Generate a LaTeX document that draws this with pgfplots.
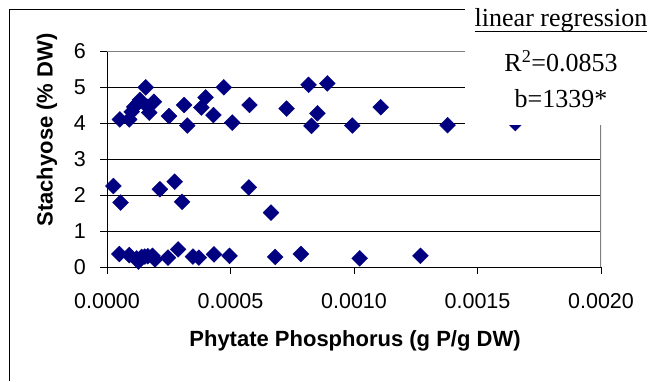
\documentclass[border=0pt]{standalone}
\usepackage{pgfplots}
\pgfplotsset{compat=1.18}
\usepackage{fontspec}
\setmainfont{Liberation Sans}
\newfontfamily\timesfont{Liberation Serif}
\definecolor{navy}{HTML}{000080}
\definecolor{framegray}{HTML}{808080}
\begin{document}
\begin{tikzpicture}[x=1pt,y=1pt]
\path[use as bounding box] (0,0) rectangle (650,381);
\draw[black, line width=1pt] (9,0) -- (9,371) -- (650,371);
\begin{axis}[
  at={(107pt,114pt)}, anchor=south west,
  scale only axis, width=494pt, height=216pt,
  xmin=0, xmax=0.002, ymin=0, ymax=6,
  axis x line*=bottom, axis y line*=left,
  axis line style={black, line width=1pt, -},
  xtick={0,0.0005,0.001,0.0015,0.002},
  xticklabels={0.0000,0.0005,0.0010,0.0015,0.0020},
  scaled x ticks=false,
  ytick={0,1,2,3,4,5,6},
  /pgf/number format/assume math mode=true,
  tick align=outside, major tick length=7pt,
  tick style={black, line width=0.8pt},
  ymajorgrids, grid style={black, line width=0.8pt},
  ticklabel style={font=\fontsize{21.5}{24}\selectfont},
  xticklabel style={anchor=base, inner sep=0pt, yshift=-34pt},
  yticklabel style={anchor=east, inner sep=0pt, xshift=-14pt},
]
\addplot[only marks, mark=square*, mark size=5.6pt,
  mark options={rotate=45, fill=navy, draw=navy}] coordinates {
(0.000052, 4.10) (0.000090, 4.10) (0.000100, 4.31) (0.000110, 4.45)
(0.000125, 4.55) (0.000133, 4.64) (0.000157, 4.99) (0.000171, 4.29)
(0.000165, 4.45) (0.000190, 4.59) (0.000251, 4.19) (0.000312, 4.50)
(0.000325, 3.93) (0.000382, 4.43) (0.000399, 4.71) (0.000431, 4.22)
(0.000473, 4.99) (0.000507, 4.01) (0.000577, 4.50) (0.000727, 4.40)
(0.000816, 5.06) (0.000892, 5.10) (0.000852, 4.27) (0.000828, 3.92)
(0.000993, 3.93) (0.001108, 4.44) (0.001379, 3.94) (0.001653, 4.00)
(0.000026, 2.25) (0.000055, 1.79) (0.000214, 2.16) (0.000274, 2.37)
(0.000304, 1.81) (0.000574, 2.21) (0.000664, 1.51)
(0.000050, 0.36) (0.000090, 0.33) (0.000120, 0.24) (0.000127, 0.15)
(0.000140, 0.28) (0.000153, 0.29) (0.000165, 0.30) (0.000184, 0.31)
(0.000194, 0.21) (0.000247, 0.26) (0.000288, 0.49) (0.000348, 0.29)
(0.000372, 0.26) (0.000433, 0.35) (0.000496, 0.31) (0.000681, 0.28)
(0.000785, 0.36) (0.001023, 0.24) (0.001269, 0.31)
};
\draw[framegray, line width=1.5pt] (rel axis cs:0,1) -- (rel axis cs:1,1) -- (rel axis cs:1,0);
\end{axis}
\fill[white] (465,256) rectangle (650,381);
\node[anchor=base, inner sep=0pt, font=\timesfont\fontsize{26}{30}\selectfont] (lr) at (561,354) {linear regression};
\draw[black, line width=1.2pt] ([yshift=-4.5pt]lr.base west) -- ([yshift=-4.5pt]lr.base east);
\node[anchor=base, inner sep=0pt, font=\timesfont\fontsize{26}{30}\selectfont] at (561,309) {R\textsuperscript{2}=0.0853};
\node[anchor=base, inner sep=0pt, font=\timesfont\fontsize{26}{30}\selectfont] at (561,274) {b=1339*};
\node[rotate=90, anchor=base, inner sep=0pt, font=\bfseries\fontsize{22}{26}\selectfont] at (52.5,251) {Stachyose (\% DW)};
\node[anchor=base, inner sep=0pt, font=\bfseries\fontsize{22}{26}\selectfont] at (355,35) {Phytate Phosphorus (g P/g DW)};
\end{tikzpicture}
\end{document}
